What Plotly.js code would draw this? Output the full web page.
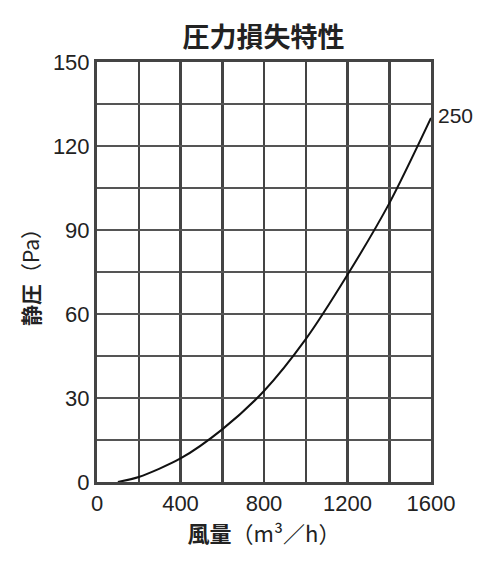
<!DOCTYPE html>
<html>
<head>
<meta charset="utf-8">
<script src="https://cdn.plot.ly/plotly-3.0.1.min.js"></script>
<style>
  html, body { margin: 0; padding: 0; background: #fff; }
  #chart { width: 500px; height: 568px; }
</style>
</head>
<body>
<div id="chart"></div>
<script>
// air flow (m3/h) vs static pressure (Pa)
var airFlow = [100, 200, 400, 600, 800, 1000, 1200, 1400, 1600];
var staticPressure = [0, 1.8, 8.4, 18.8, 32.5, 51, 74, 99.5, 130];
var curveLabel = '250';

var FONT = 'Liberation Sans, Arial, Noto Sans CJK JP, sans-serif';
var JP = 'Noto Sans CJK JP, sans-serif';

var trace = {
    x: airFlow,
    y: staticPressure,
    mode: 'lines',
    type: 'scatter',
    line: { color: '#111', width: 2, shape: 'spline', smoothing: 0.8 },
    hoverinfo: 'skip'
};

var layout = {
    width: 500,
    height: 568,
    margin: { l: 97, r: 69, t: 62, b: 86 },
    paper_bgcolor: '#fff',
    plot_bgcolor: '#fff',
    showlegend: false,
    title: {
        text: '<b>圧力損失特性</b>',
        font: { family: JP, size: 27, color: '#222' },
        x: 0.527, xanchor: 'center',
        y: 0.934, yanchor: 'middle'
    },
    xaxis: {
        range: [0, 1600],
        dtick: 400,
        tick0: 0,
        showgrid: true,
        gridcolor: '#444',
        gridwidth: 2.5,
        minor: { dtick: 200, showgrid: true, gridcolor: '#444', gridwidth: 2.5 },
        zeroline: false,
        showline: true,
        linecolor: '#444',
        linewidth: 3,
        mirror: true,
        ticks: '',
        tickfont: { family: FONT, size: 22, color: '#222' },
        title: {
            text: '<b>風量</b>（m³／h）',
            font: { family: JP, size: 22, color: '#222' },
            standoff: 4
        }
    },
    yaxis: {
        range: [0, 150],
        dtick: 30,
        tick0: 0,
        showgrid: true,
        gridcolor: '#555',
        gridwidth: 1.6,
        minor: { dtick: 15, showgrid: true, gridcolor: '#555', gridwidth: 1.6 },
        zeroline: false,
        showline: true,
        linecolor: '#444',
        linewidth: 3,
        mirror: true,
        ticks: '',
        tickfont: { family: FONT, size: 22, color: '#222' },
        title: {
            text: '<b>静圧</b>（Pa）',
            font: { family: JP, size: 21, color: '#222' },
            standoff: 8
        }
    },
    annotations: [{
        x: airFlow[airFlow.length - 1],
        y: staticPressure[staticPressure.length - 1],
        text: curveLabel,
        showarrow: false,
        xanchor: 'left',
        xshift: 5,
        yshift: 3,
        font: { family: FONT, size: 21, color: '#222' }
    }]
};

Plotly.newPlot('chart', [trace], layout, { staticPlot: true });
</script>
</body>
</html>
